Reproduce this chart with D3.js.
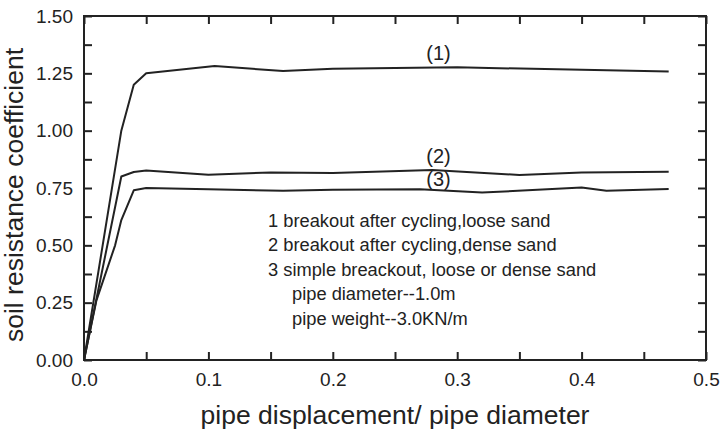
<!DOCTYPE html>
<html>
<head>
<meta charset="utf-8">
<script src="https://cdn.jsdelivr.net/npm/d3@7"></script>
<style>
  body { margin: 0; background: #fff; }
  svg { display: block; }
  text { font-family: "Liberation Sans", Arial, Helvetica, sans-serif; fill: #222; }
</style>
</head>
<body>
<svg id="chart" width="721" height="433"></svg>
<script>
// ---- data ----
const curve1X = [0, 0.03, 0.04, 0.05, 0.105, 0.16, 0.2, 0.3, 0.47];
const curve1Y = [0, 1.0, 1.2, 1.25, 1.282, 1.26, 1.27, 1.276, 1.258];
const curve2X = [0, 0.03, 0.04, 0.05, 0.1, 0.15, 0.2, 0.28, 0.35, 0.4, 0.47];
const curve2Y = [0, 0.80, 0.82, 0.826, 0.808, 0.818, 0.815, 0.829, 0.807, 0.818, 0.821];
const curve3X = [0, 0.01, 0.025, 0.03, 0.04, 0.05, 0.1, 0.16, 0.2, 0.27, 0.32, 0.4, 0.42, 0.47];
const curve3Y = [0, 0.26, 0.5, 0.61, 0.74, 0.75, 0.745, 0.738, 0.742, 0.745, 0.73, 0.752, 0.738, 0.746];
const curveLabels = ["(1)", "(2)", "(3)"];
const curveLabelPos = [[0.285, 1.31], [0.285, 0.86], [0.285, 0.76]];
const xTicksMajor = [0, 0.1, 0.2, 0.3, 0.4, 0.5];
const xTicksAll = [0, 0.05, 0.1, 0.15, 0.2, 0.25, 0.3, 0.35, 0.4, 0.45, 0.5];
const yTicksMajor = [0, 0.25, 0.5, 0.75, 1.0, 1.25, 1.5];
const yTicksAll = [0, 0.125, 0.25, 0.375, 0.5, 0.625, 0.75, 0.875, 1.0, 1.125, 1.25, 1.375, 1.5];
const legendLines = [
  "1 breakout after cycling,loose sand",
  "2 breakout after cycling,dense sand",
  "3 simple breackout, loose or dense sand",
  "pipe diameter--1.0m",
  "pipe weight--3.0KN/m"
];
const legendIndent = [0, 0, 0, 1, 1];
const xTitle = "pipe displacement/ pipe diameter";
const yTitle = "soil resistance coefficient";

// ---- layout ----
const mLeft = 84, mRight = 706, mTop = 16, mBottom = 360;
const svg = d3.select("#chart");
const x = d3.scaleLinear().domain([0, 0.5]).range([mLeft, mRight]);
const y = d3.scaleLinear().domain([0, 1.5]).range([mBottom, mTop]);
const ink = "#222";
const tickLen = 8;

const fmtX = d => xTicksMajor.some(t => Math.abs(t - d) < 1e-9) ? d3.format(".1f")(d) : "";
const fmtY = d => yTicksMajor.some(t => Math.abs(t - d) < 1e-9) ? d3.format(".2f")(d) : "";

function styleAxis(g) {
  g.select(".domain").remove();
  g.selectAll(".tick line").attr("stroke", ink).attr("stroke-width", 2);
  g.selectAll(".tick text").attr("fill", ink).style("font-size", "19px")
   .attr("font-family", "Liberation Sans, Arial, sans-serif");
}

svg.append("g").attr("transform", `translate(0,${mBottom})`)
  .call(d3.axisBottom(x).tickValues(xTicksAll).tickFormat(fmtX).tickSize(-tickLen).tickPadding(13))
  .call(styleAxis);
svg.append("g").attr("transform", `translate(0,${mTop})`)
  .call(d3.axisTop(x).tickValues(xTicksAll).tickFormat("").tickSize(-tickLen))
  .call(styleAxis);
svg.append("g").attr("transform", `translate(${mLeft},0)`)
  .call(d3.axisLeft(y).tickValues(yTicksAll).tickFormat(fmtY).tickSize(-tickLen).tickPadding(11))
  .call(styleAxis);
svg.append("g").attr("transform", `translate(${mRight},0)`)
  .call(d3.axisRight(y).tickValues(yTicksAll).tickFormat("").tickSize(-tickLen))
  .call(styleAxis);

// frame
svg.append("rect").attr("x", mLeft).attr("y", mTop)
  .attr("width", mRight - mLeft).attr("height", mBottom - mTop)
  .attr("fill", "none").attr("stroke", ink).attr("stroke-width", 2);

// curves
const line = d3.line().x(d => x(d[0])).y(d => y(d[1]));
[[curve1X, curve1Y], [curve2X, curve2Y], [curve3X, curve3Y]].forEach(([xs, ys]) => {
  svg.append("path").datum(xs.map((v, i) => [v, ys[i]]))
    .attr("d", line).attr("fill", "none").attr("stroke", ink)
    .attr("stroke-width", 2).attr("stroke-linejoin", "round");
});

// curve labels
curveLabels.forEach((t, i) => {
  svg.append("text").attr("x", x(curveLabelPos[i][0])).attr("y", y(curveLabelPos[i][1]))
    .attr("text-anchor", "middle").style("font-size", "20px").text(t);
});

// legend text
legendLines.forEach((t, i) => {
  svg.append("text").attr("x", 268 + legendIndent[i] * 24).attr("y", 227 + i * 24.4)
    .style("font-size", "18.3px").text(t);
});

// axis titles
svg.append("text").attr("x", (mLeft + mRight) / 2).attr("y", 424)
  .attr("text-anchor", "middle").style("font-size", "26.5px").text(xTitle);
svg.append("text").attr("transform", `translate(23,${(mTop + mBottom) / 2 + 7}) rotate(-90)`)
  .attr("text-anchor", "middle").style("font-size", "26.5px").text(yTitle);
</script>
</body>
</html>
